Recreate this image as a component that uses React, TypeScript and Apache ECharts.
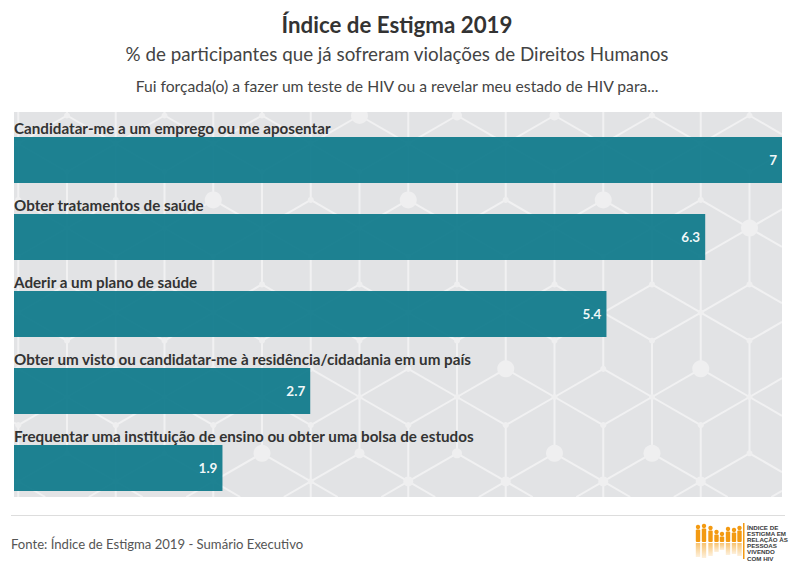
import React, { useEffect, useRef } from 'react';
import * as echarts from 'echarts';

const categories = [
  'Candidatar-me a um emprego ou me aposentar',
  'Obter tratamentos de saúde',
  'Aderir a um plano de saúde',
  'Obter um visto ou candidatar-me à residência/cidadania em um país',
  'Frequentar uma instituição de ensino ou obter uma bolsa de estudos',
];
const values = [7, 6.3, 5.4, 2.7, 1.9];
const xMax = 7;

const titleText = 'Índice de Estigma 2019';
const subtitleText = '% de participantes que já sofreram violações de Direitos Humanos';
const questionText = 'Fui forçada(o) a fazer um teste de HIV ou a revelar meu estado de HIV para...';
const sourceText = 'Fonte: Índice de Estigma 2019 - Sumário Executivo';
const logoLines = ['ÍNDICE DE', 'ESTIGMA EM', 'RELAÇÃO ÀS', 'PESSOAS', 'VIVENDO', 'COM HIV'];

const FONT = 'Lato, "Noto Sans", sans-serif';
const W = 796;
const H = 575;

// plot background box
const PL = 14, PT = 112, PR = 782, PB = 497;
// decorative lattice
const X0 = 457, Y0 = 397, DX = 48.75, S = 56.3;
const bigNodes = [[-1, -5], [-5, 3], [-6, 6], [3, -4], [-4, -2], [-3, -1], [-1, 1], [-3, 5], [0, 2], [-1, 4]];
const midNodes = [[1, 0], [2, -2], [2, -1], [1, 1], [0, 3], [-1, 5], [-5, 0], [-6, 2]];

function nodePos(i: number, j: number): [number, number] {
  return [X0 + j * DX, Y0 + i * S + (j * S) / 2];
}

function clipSeg(x1: number, y1: number, x2: number, y2: number): number[] | null {
  let t0 = 0, t1 = 1;
  const dx = x2 - x1, dy = y2 - y1;
  const p = [-dx, dx, -dy, dy];
  const q = [x1 - PL, PR - x1, y1 - PT, PB - y1];
  for (let k = 0; k < 4; k++) {
    if (p[k] === 0) {
      if (q[k] < 0) return null;
    } else {
      const r = q[k] / p[k];
      if (p[k] < 0) { if (r > t1) return null; if (r > t0) t0 = r; }
      else { if (r < t0) return null; if (r < t1) t1 = r; }
    }
  }
  return [x1 + t0 * dx, y1 + t0 * dy, x1 + t1 * dx, y1 + t1 * dy];
}

function buildPattern(): any[] {
  const els: any[] = [];
  els.push({ type: 'rect', silent: true, z: 0, shape: { x: PL, y: PT, width: PR - PL, height: PB - PT }, style: { fill: '#e2e3e5' } });
  const nb = [[1, 0], [-1, 0], [0, 1], [0, -1], [-1, 1], [1, -1]];
  const lineStyle = { stroke: '#f1f1f2', lineWidth: 2 };
  for (let j = -10; j <= 9; j++) {
    for (let i = -16; i <= 16; i++) {
      const [x, y] = nodePos(i, j);
      if (((i - j) % 3 + 3) % 3 !== 0) continue;
      for (const [di, dj] of nb) {
        const [x2, y2] = nodePos(i + di, j + dj);
        const c = clipSeg(x, y, x2, y2);
        if (c) els.push({ type: 'line', silent: true, z: 1, shape: { x1: c[0], y1: c[1], x2: c[2], y2: c[3] }, style: lineStyle });
      }
    }
  }
  const isIn = (list: number[][], i: number, j: number) => list.some((n) => n[0] === i && n[1] === j);
  for (let j = -10; j <= 9; j++) {
    for (let i = -16; i <= 16; i++) {
      const [x, y] = nodePos(i, j);
      if (x < PL - 10 || x > PR + 10 || y < PT - 10 || y > PB + 10) continue;
      let r = 3;
      if (isIn(bigNodes, i, j)) r = 8.5;
      else if (isIn(midNodes, i, j)) r = 5;
      els.push({ type: 'circle', silent: true, z: 1, shape: { cx: x, cy: y, r }, style: { fill: '#efeff0' } });
    }
  }
  // white masks for overflow
  els.push({ type: 'rect', silent: true, z: 1.5, shape: { x: 0, y: PT - 12, width: W, height: 12 }, style: { fill: '#ffffff' } });
  els.push({ type: 'rect', silent: true, z: 1.5, shape: { x: 0, y: PB, width: W, height: 12 }, style: { fill: '#ffffff' } });
  els.push({ type: 'rect', silent: true, z: 1.5, shape: { x: PR, y: PT - 12, width: 14, height: PB - PT + 24 }, style: { fill: '#ffffff' } });
  els.push({ type: 'rect', silent: true, z: 1.5, shape: { x: 0, y: PT - 12, width: PL, height: PB - PT + 24 }, style: { fill: '#ffffff' } });
  return els;
}

function buildLogo(): any[] {
  const els: any[] = [];
  const base = 542;
  const figs = [
    [698, 17], [704, 18], [710.5, 16], [716.5, 12], [722, 10], [728, 15], [734, 14], [739.5, 16],
  ];
  for (const [x, h] of figs) {
    els.push({ type: 'circle', silent: true, z: 10, shape: { cx: x, cy: base - h + 2, r: 2.2 }, style: { fill: '#f39a12' } });
    els.push({ type: 'rect', silent: true, z: 10, shape: { x: x - 2.2, y: base - h + 4.5, width: 4.4, height: h - 4.5, r: 1 }, style: { fill: '#f39a12' } });
    els.push({
      type: 'rect', silent: true, z: 10,
      shape: { x: x - 2.2, y: base + 1, width: 4.4, height: h - 3 },
      style: { fill: new echarts.graphic.LinearGradient(0, 0, 0, 1, [{ offset: 0, color: '#f8c370' }, { offset: 1, color: '#fdf0dc' }]) },
    });
  }
  els.push({ type: 'rect', silent: true, z: 10, shape: { x: 743, y: 523, width: 1.5, height: 36 }, style: { fill: '#f39a12' } });
  logoLines.forEach((t, k) => {
    els.push({
      type: 'text', silent: true, z: 10, x: 747, y: 527 + k * 6.2,
      style: { text: t, fontSize: 6.2, fontWeight: 'bold', fontFamily: 'Arial, sans-serif', fill: '#3b3b3b', align: 'left', verticalAlign: 'middle' },
    });
  });
  return els;
}

export default function App() {
  const ref = useRef<HTMLDivElement>(null);
  useEffect(() => {
    document.body.style.margin = '0';
    if (!ref.current) return;
    const chart = echarts.init(ref.current, null, { renderer: 'svg' });
    const texts: any[] = [
      { type: 'text', silent: true, z: 10, x: 397, y: 24, style: { text: titleText, fontSize: 22.3, fontWeight: 'bold', fontFamily: FONT, fill: '#333333', align: 'center', verticalAlign: 'middle' } },
      { type: 'text', silent: true, z: 10, x: 397, y: 53, style: { text: subtitleText, fontSize: 18.8, fontFamily: FONT, fill: '#444444', align: 'center', verticalAlign: 'middle' } },
      { type: 'text', silent: true, z: 10, x: 397, y: 86, style: { text: questionText, fontSize: 15.7, fontFamily: FONT, fill: '#444444', align: 'center', verticalAlign: 'middle' } },
      { type: 'line', silent: true, z: 10, shape: { x1: 11, y1: 515.5, x2: 785, y2: 515.5 }, style: { stroke: '#dddddd', lineWidth: 1 } },
      { type: 'text', silent: true, z: 10, x: 11, y: 544, style: { text: sourceText, fontSize: 13.1, fontFamily: FONT, fill: '#555555', align: 'left', verticalAlign: 'middle' } },
    ];
    chart.setOption({
      animation: false,
      grid: { left: PL, top: 121.5, width: PR - PL, height: 385, containLabel: false },
      xAxis: { type: 'value', min: 0, max: xMax, show: false },
      yAxis: { type: 'category', data: categories, inverse: true, show: false },
      graphic: { elements: [...buildPattern(), ...texts, ...buildLogo()] },
      series: [
        {
          type: 'bar',
          data: values,
          barWidth: 46,
          z: 3,
          silent: true,
          itemStyle: { color: '#127b8c', opacity: 0.95 },
          label: {
            show: true,
            position: 'insideRight',
            distance: 5,
            color: '#ffffff',
            fontWeight: 'bold',
            fontSize: 13.5,
            fontFamily: FONT,
            formatter: (p: any) => String(p.value),
          },
        },
        {
          type: 'bar',
          data: values,
          barWidth: 46,
          barGap: '-100%',
          z: 4,
          silent: true,
          itemStyle: { color: 'rgba(0,0,0,0)' },
          label: {
            show: true,
            position: [0, -2],
            align: 'left',
            verticalAlign: 'bottom',
            color: '#333333',
            fontWeight: 'bold',
            fontSize: 15.2,
            fontFamily: FONT,
            formatter: (p: any) => categories[p.dataIndex],
          },
        },
      ],
    });
    return () => chart.dispose();
  }, []);
  return <div ref={ref} style={{ width: W, height: H }} />;
}
